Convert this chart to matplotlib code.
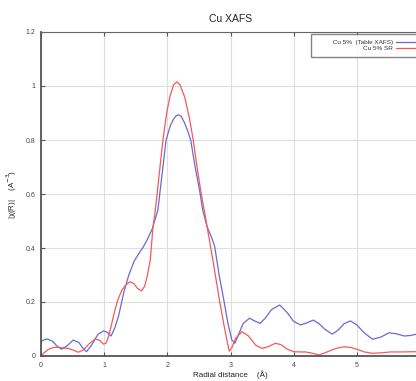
import matplotlib
matplotlib.use("Agg")
import matplotlib.pyplot as plt

plt.rcParams['font.family'] = ['Liberation Sans', 'DejaVu Sans']

# Cu 5% (Table XAFS)
r_table = [0.0, 0.05, 0.10, 0.18, 0.25, 0.32, 0.40, 0.51, 0.60, 0.66, 0.72, 0.80,
           0.90, 0.99, 1.05, 1.11, 1.17, 1.23, 1.31, 1.39, 1.47, 1.55, 1.62, 1.68,
           1.76, 1.85, 1.92, 1.98, 2.05, 2.10, 2.14, 2.18, 2.22, 2.27, 2.32, 2.37,
           2.44, 2.51, 2.56, 2.63, 2.70, 2.75, 2.82, 2.90, 2.96, 3.02, 3.07, 3.12,
           3.20, 3.30, 3.38, 3.47, 3.55, 3.65, 3.78, 3.90, 4.00, 4.11, 4.20, 4.31,
           4.40, 4.50, 4.61, 4.70, 4.80, 4.90, 5.00, 5.12, 5.25, 5.38, 5.51, 5.63,
           5.75, 5.85, 5.95]
chi_table = [0.053, 0.060, 0.063, 0.055, 0.038, 0.025, 0.035, 0.059, 0.050, 0.030,
             0.016, 0.040, 0.080, 0.093, 0.088, 0.074, 0.105, 0.150, 0.235, 0.300,
             0.349, 0.380, 0.404, 0.430, 0.470, 0.540, 0.680, 0.800, 0.855, 0.878,
             0.890, 0.893, 0.887, 0.865, 0.835, 0.800, 0.700, 0.615, 0.540, 0.478,
             0.440, 0.405, 0.300, 0.200, 0.120, 0.060, 0.047, 0.075, 0.120, 0.140,
             0.130, 0.121, 0.140, 0.172, 0.189, 0.160, 0.128, 0.115, 0.122, 0.133,
             0.120, 0.098, 0.081, 0.095, 0.120, 0.130, 0.115, 0.085, 0.062, 0.070,
             0.086, 0.082, 0.074, 0.076, 0.081]

# Cu 5% SR
r_sr = [0.0, 0.05, 0.12, 0.20, 0.27, 0.35, 0.43, 0.51, 0.59, 0.67, 0.76, 0.86,
        0.93, 0.99, 1.03, 1.07, 1.12, 1.17, 1.22, 1.28, 1.35, 1.41, 1.47, 1.53,
        1.59, 1.64, 1.68, 1.73, 1.77, 1.81, 1.87, 1.93, 1.99, 2.04, 2.10, 2.15,
        2.20, 2.28, 2.35, 2.41, 2.47, 2.53, 2.60, 2.68, 2.76, 2.83, 2.90, 2.95,
        2.98, 3.02, 3.08, 3.18, 3.28, 3.40, 3.50, 3.60, 3.71, 3.80, 3.90, 4.00,
        4.10, 4.19, 4.30, 4.40, 4.50, 4.60, 4.70, 4.80, 4.90, 5.00, 5.12, 5.25,
        5.40, 5.53, 5.70, 5.95]
chi_sr = [0.0, 0.012, 0.025, 0.032, 0.032, 0.030, 0.028, 0.022, 0.014, 0.022,
          0.045, 0.063, 0.058, 0.044, 0.048, 0.072, 0.120, 0.170, 0.210, 0.244,
          0.265, 0.275, 0.268, 0.250, 0.241, 0.258, 0.294, 0.356, 0.470, 0.540,
          0.670, 0.800, 0.900, 0.960, 1.005, 1.015, 1.005, 0.955, 0.880, 0.800,
          0.700, 0.610, 0.520, 0.410, 0.300, 0.200, 0.110, 0.050, 0.018, 0.030,
          0.065, 0.090, 0.075, 0.040, 0.028, 0.035, 0.047, 0.042, 0.025, 0.016,
          0.015, 0.015, 0.010, 0.004, 0.012, 0.022, 0.030, 0.034, 0.032, 0.025,
          0.015, 0.010, 0.012, 0.015, 0.015, 0.016]

x_ticks = [0, 1, 2, 3, 4, 5]
y_ticks = [0, 0.2, 0.4, 0.6, 0.8, 1, 1.2]
y_tick_labels = ['0', '0.2', '0.4', '0.6', '0.8', '1', '1.2']

fig = plt.figure(figsize=(4.16, 3.81), dpi=100)
ax = fig.add_axes([41 / 416, 1 - 356 / 381, 379 / 416, 324 / 381])

ax.plot(r_table, chi_table, color='#6a6ad2', lw=0.9,
        label='         Cu 5%  (Table XAFS)')
ax.plot(r_sr, chi_sr, color='#f25a5a', lw=0.9, label='Cu 5% SR')

ax.set_xlim(0, 6)
ax.set_ylim(0, 1.2)
ax.set_xticks(x_ticks)
ax.set_xticklabels([str(v) for v in x_ticks])
ax.set_yticks(y_ticks)
ax.set_yticklabels(y_tick_labels)
ax.grid(True, color='#dedede', lw=0.8)
ax.set_axisbelow(True)
ax.tick_params(direction='in', top=True, length=3, width=0.8, color='#555555',
               labelsize=5, labelcolor='#444444', pad=4)

for side in ['left', 'bottom']:
    ax.spines[side].set_color('#555555')
    ax.spines[side].set_linewidth(1.3)
ax.spines['top'].set_color('#666666')
ax.spines['top'].set_linewidth(0.8)
ax.spines['right'].set_visible(False)

ax.set_title('Cu XAFS', fontsize=7.5, color='#222222', pad=7)
ax.set_xlabel('Radial distance    (Å)', fontsize=5.8, color='#222222')
ax.xaxis.set_label_coords(0.5, -0.045)
ax.set_ylabel('|χ(R)|    (A$^{-3}$)', fontsize=5.8, color='#222222', labelpad=5)

leg = ax.legend(loc='upper left', bbox_to_anchor=(311 / 416, 1 - 34 / 381),
                bbox_transform=fig.transFigure, markerfirst=False, fontsize=4.6,
                frameon=True, fancybox=False, handlelength=3.0, borderpad=0.9,
                labelspacing=0.1, handletextpad=0.5, borderaxespad=0)
leg.get_frame().set_edgecolor('#666666')
leg.get_frame().set_linewidth(1.0)
for t in leg.get_texts():
    t.set_ha('right')
    t.set_color('#333333')

fig.savefig('out.png', dpi=100)
